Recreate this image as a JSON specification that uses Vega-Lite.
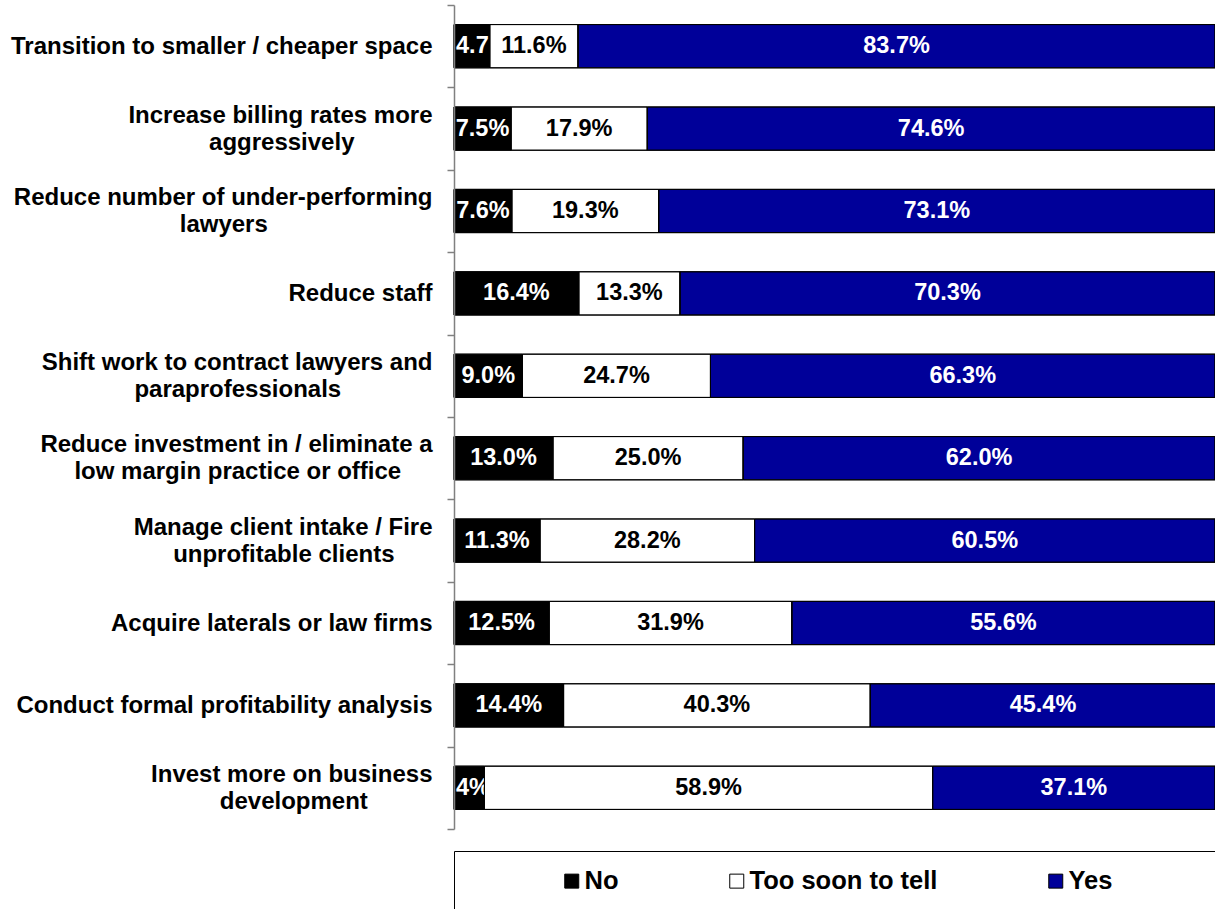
{
  "$schema": "https://vega.github.io/schema/vega-lite/v6.json",
  "autosize": {"type": "none"},
  "padding": {"left": 454, "top": 5, "right": 0, "bottom": 80},
  "width": 761,
  "height": 824,
  "background": "#ffffff",
  "config": {"view": {"stroke": null}},
  "data": {
    "values": [
      {"category": "Transition to smaller / cheaper space", "response": "No", "pct": 0.047},
      {"category": "Transition to smaller / cheaper space", "response": "Too soon to tell", "pct": 0.116},
      {"category": "Transition to smaller / cheaper space", "response": "Yes", "pct": 0.837},
      {"category": "Increase billing rates more aggressively", "response": "No", "pct": 0.075},
      {"category": "Increase billing rates more aggressively", "response": "Too soon to tell", "pct": 0.179},
      {"category": "Increase billing rates more aggressively", "response": "Yes", "pct": 0.746},
      {"category": "Reduce number of under-performing lawyers", "response": "No", "pct": 0.076},
      {"category": "Reduce number of under-performing lawyers", "response": "Too soon to tell", "pct": 0.193},
      {"category": "Reduce number of under-performing lawyers", "response": "Yes", "pct": 0.731},
      {"category": "Reduce staff", "response": "No", "pct": 0.164},
      {"category": "Reduce staff", "response": "Too soon to tell", "pct": 0.133},
      {"category": "Reduce staff", "response": "Yes", "pct": 0.703},
      {"category": "Shift work to contract lawyers and paraprofessionals", "response": "No", "pct": 0.090},
      {"category": "Shift work to contract lawyers and paraprofessionals", "response": "Too soon to tell", "pct": 0.247},
      {"category": "Shift work to contract lawyers and paraprofessionals", "response": "Yes", "pct": 0.663},
      {"category": "Reduce investment in / eliminate a low margin practice or office", "response": "No", "pct": 0.130},
      {"category": "Reduce investment in / eliminate a low margin practice or office", "response": "Too soon to tell", "pct": 0.250},
      {"category": "Reduce investment in / eliminate a low margin practice or office", "response": "Yes", "pct": 0.620},
      {"category": "Manage client intake / Fire unprofitable clients", "response": "No", "pct": 0.113},
      {"category": "Manage client intake / Fire unprofitable clients", "response": "Too soon to tell", "pct": 0.282},
      {"category": "Manage client intake / Fire unprofitable clients", "response": "Yes", "pct": 0.605},
      {"category": "Acquire laterals or law firms", "response": "No", "pct": 0.125},
      {"category": "Acquire laterals or law firms", "response": "Too soon to tell", "pct": 0.319},
      {"category": "Acquire laterals or law firms", "response": "Yes", "pct": 0.556},
      {"category": "Conduct formal profitability analysis", "response": "No", "pct": 0.144},
      {"category": "Conduct formal profitability analysis", "response": "Too soon to tell", "pct": 0.403},
      {"category": "Conduct formal profitability analysis", "response": "Yes", "pct": 0.454},
      {"category": "Invest more on business development", "response": "No", "pct": 0.040},
      {"category": "Invest more on business development", "response": "Too soon to tell", "pct": 0.589},
      {"category": "Invest more on business development", "response": "Yes", "pct": 0.371}
    ]
  },
  "encoding": {
    "y": {
      "field": "category",
      "type": "nominal",
      "sort": null,
      "scale": {"paddingInner": 0, "paddingOuter": 0},
      "axis": {
        "title": null,
        "tickBand": "extent",
        "labelExpr": "datum.value == 'Increase billing rates more aggressively' ? ['Increase billing rates more', 'aggressively\u00a0\u00a0\u00a0\u00a0\u00a0\u00a0\u00a0\u00a0\u00a0\u2800'] : datum.value == 'Reduce number of under-performing lawyers' ? ['Reduce number of under-performing', 'lawyers\u00a0\u00a0\u00a0\u00a0\u00a0\u00a0\u00a0\u00a0\u00a0\u00a0\u00a0\u00a0\u00a0\u00a0\u00a0\u00a0\u00a0\u00a0\u00a0\u00a0\u00a0\u00a0\u2800'] : datum.value == 'Shift work to contract lawyers and paraprofessionals' ? ['Shift work to contract lawyers and', 'paraprofessionals\u00a0\u00a0\u00a0\u00a0\u00a0\u00a0\u00a0\u00a0\u00a0\u00a0\u00a0\u2800'] : datum.value == 'Reduce investment in / eliminate a low margin practice or office' ? ['Reduce investment in / eliminate a', 'low margin practice or office\u00a0\u00a0\u2800'] : datum.value == 'Manage client intake / Fire unprofitable clients' ? ['Manage client intake / Fire', 'unprofitable clients\u00a0\u00a0\u00a0\u2800'] : datum.value == 'Invest more on business development' ? ['Invest more on business', 'development\u00a0\u00a0\u00a0\u00a0\u00a0\u00a0\u00a0\u2800'] : datum.value",
        "labelOffset": {
          "condition": {
            "test": "indexof(['Increase billing rates more aggressively', 'Reduce number of under-performing lawyers', 'Shift work to contract lawyers and paraprofessionals', 'Reduce investment in / eliminate a low margin practice or office', 'Manage client intake / Fire unprofitable clients', 'Invest more on business development'], datum.value) >= 0",
            "value": -13.5
          },
          "value": 0
        },
        "labelFont": "Liberation Sans",
        "labelFontSize": 24,
        "labelFontWeight": "bold",
        "labelColor": "#000000",
        "labelLimit": 700,
        "labelPadding": 15,
        "labelLineHeight": 27,
        "tickSize": 7,
        "tickColor": "#808080",
        "tickWidth": 1.5,
        "domainColor": "#808080",
        "domainWidth": 1.5,
        "zindex": 1
      }
    }
  },
  "layer": [
    {
      "mark": {"type": "bar", "height": {"band": 0.525}, "stroke": "#000000", "strokeWidth": 1},
      "encoding": {
        "x": {"field": "pct", "type": "quantitative", "stack": "zero", "scale": {"domain": [0, 1], "nice": false, "zero": true}, "axis": null},
        "order": {"field": "response", "type": "nominal"},
        "color": {
          "field": "response",
          "type": "nominal",
          "scale": {"domain": ["No", "Too soon to tell", "Yes"], "range": ["#000000", "#ffffff", "#000099"]},
          "legend": {
            "orient": "none",
            "legendX": 0,
            "legendY": 846,
            "direction": "horizontal",
            "title": "\u2800\u00a0\u00a0\u00a0\u00a0\u00a0\u00a0\u2800",
            "titleOrient": "left",
            "titleFont": "Liberation Sans",
            "titleFontSize": 25.5,
            "titlePadding": 7,
            "padding": 17,
            "strokeColor": "#000000",
            "symbolType": "square",
            "symbolSize": 196,
            "symbolStrokeColor": "#000000",
            "symbolStrokeWidth": 1,
            "symbolOpacity": 1,
            "labelFont": "Liberation Sans",
            "labelFontSize": 25.5,
            "labelFontWeight": "bold",
            "labelColor": "#000000",
            "labelOffset": 0,
            "labelLimit": 700,
            "columnPadding": 105,
            "labelExpr": "datum.label == 'Yes' ? 'Yes\u00a0\u00a0\u00a0\u00a0\u00a0\u00a0\u00a0\u00a0\u00a0\u00a0\u00a0\u2800' : datum.label"
          }
        }
      }
    },
    {
      "mark": {"type": "text", "font": "Liberation Sans", "fontSize": 23.5, "fontWeight": "bold", "baseline": "middle", "align": "left", "dx": 2, "color": "#ffffff", "limit": 35, "ellipsis": "\u200b"},
      "encoding": {
        "x": {"field": "pct", "type": "quantitative", "stack": "zero", "bandPosition": 0.001, "scale": {"domain": [0, 1], "nice": false, "zero": true}, "axis": null},
        "detail": {"field": "response", "type": "nominal"},
        "order": {"field": "response", "type": "nominal"},
        "text": {"condition": {"test": "datum.response == 'No' && datum.pct < 0.06", "field": "pct", "type": "quantitative", "format": ".1~%"}, "value": ""}
      }
    },
    {
      "mark": {"type": "text", "font": "Liberation Sans", "fontSize": 23.5, "fontWeight": "bold", "baseline": "middle", "align": "center"},
      "encoding": {
        "x": {"field": "pct", "type": "quantitative", "stack": "zero", "bandPosition": 0.5, "scale": {"domain": [0, 1], "nice": false, "zero": true}, "axis": null},
        "detail": {"field": "response", "type": "nominal"},
        "order": {"field": "response", "type": "nominal"},
        "text": {"condition": {"test": "datum.response == 'No' && datum.pct < 0.06", "value": ""}, "field": "pct", "type": "quantitative", "format": ".1%"},
        "color": {"condition": {"test": "datum.response == 'Too soon to tell'", "value": "#000000"}, "value": "#ffffff"}
      }
    },
    {
      "mark": {"type": "bar", "height": {"band": 0.525}, "fillOpacity": 0, "stroke": "#000000", "strokeWidth": 1},
      "encoding": {
        "x": {"field": "pct", "type": "quantitative", "stack": "zero", "scale": {"domain": [0, 1], "nice": false, "zero": true}, "axis": null},
        "detail": {"field": "response", "type": "nominal"},
        "order": {"field": "response", "type": "nominal"}
      }
    }
  ]
}
